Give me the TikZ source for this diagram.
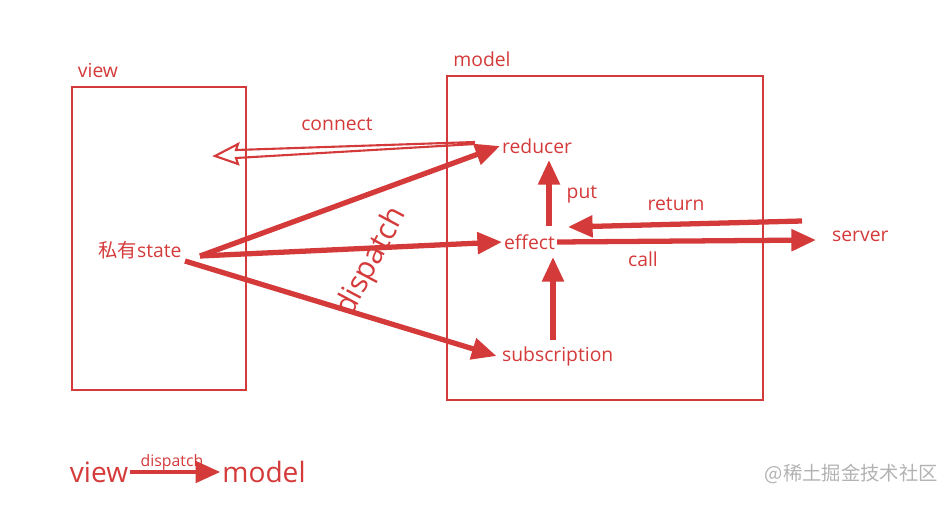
\documentclass[tikz,border=0pt]{standalone}
\usepackage{fontspec}
\setmainfont{Open Sans}
\newfontfamily\cjk{Noto Sans CJK SC}
\usetikzlibrary{arrows.meta}
\definecolor{rd}{RGB}{212,58,58}
\begin{document}
\begin{tikzpicture}[x=0.02cm,y=-0.02cm,
  box/.style={draw=rd,line width=1pt},
  lbl/.style={text=rd,font=\fontsize{11}{13}\selectfont,inner sep=1pt},
  big/.style={-{Triangle[length=14pt,width=12pt]},draw=rd,line width=3pt}]
\useasboundingbox (0,0) rectangle (949,504);
\draw[box] (72,87) rectangle (246,390);
\draw[box] (447,76) rectangle (763,400);
\node[lbl] (lv) at (98,71) {view};
\node[lbl] (lm) at (482,59) {model};
\node[lbl] (conn) at (337,124) {connect};
\node[lbl,anchor=west] (red) at (500,146) {reducer};
\node[lbl] (st) at (140,250) {{\cjk 私有}state};
\node[lbl,anchor=west] (eff) at (502,242) {effect};
\node[lbl,anchor=west] (sub) at (500,356) {subscription};
\node[lbl,anchor=west] (srv) at (830,236) {server};
\node[lbl] (put) at (582,194) {put};
\node[lbl] (ret) at (676,204) {return};
\node[lbl] (call) at (643,259) {call};
\node[text=rd,font=\fontsize{17}{19}\selectfont,rotate=62] (dsp) at (372,262) {dispatch};
\coordinate (c1) at (200,256);
\coordinate (c2) at (185,261);
% connect hollow double arrow
\draw[rd,line width=1.2pt,line join=miter] (475,142) -- (236,150) -- (238,144) -- (215,156) -- (238,164) -- (236,158) -- (475,144);
\draw[big] (c1) -- (red.west);
\draw[big] (c1) -- (eff.west);
\draw[big] (c2) -- ([xshift=-2pt]sub.west);
\coordinate (p0) at (549,226);
\draw[big] (p0) -- (549,160);
\coordinate (s0) at (553,340);
\draw[big] (s0) -- (553,257);
\coordinate (r0) at (802,221);
\draw[big] (r0) -- (568,227);
\draw[big] (eff.east) -- (816,240);
% legend
\node[text=rd,font=\fontsize{16}{18}\selectfont,inner sep=1pt] (vl) at (99,472) {view};
\node[text=rd,font=\fontsize{16}{18}\selectfont,inner sep=1pt] (ml) at (264,472) {model};
\node[lbl,font=\fontsize{9}{11}\selectfont] (dl) at (172,462) {dispatch};
\draw[big,line width=2.5pt] (vl.east) -- (ml.west);
\node[text=gray!60,font=\cjk\fontsize{11}{13}\selectfont,anchor=east] (wm) at (944,474) {@稀土掘金技术社区};
\end{tikzpicture}
\end{document}
